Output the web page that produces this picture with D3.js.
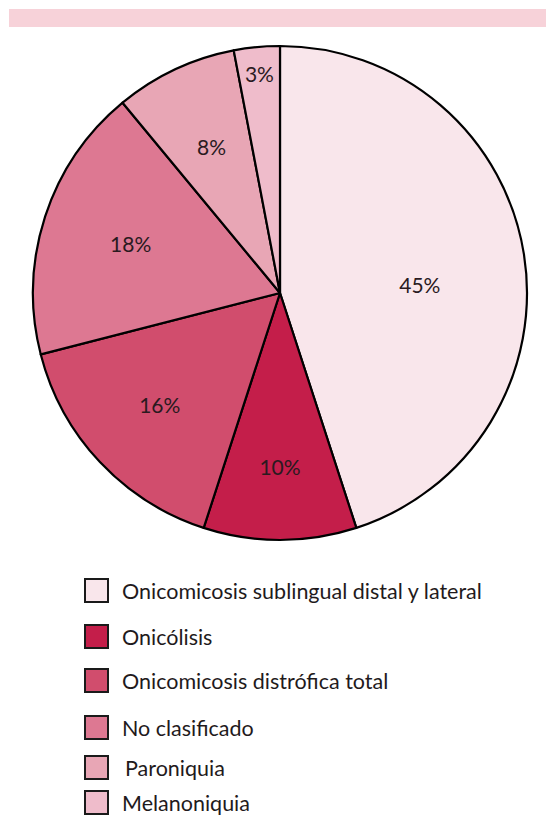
<!DOCTYPE html>
<html><head><meta charset="utf-8">
<script src="https://cdn.jsdelivr.net/npm/d3@7"></script>
<style>body{margin:0;background:#fff}svg{display:block}</style>
</head><body><svg id="c" width="546" height="815"></svg>
<script>
const categories = ["Onicomicosis sublingual distal y lateral","Onicólisis","Onicomicosis distrófica total","No clasificado","Paroniquia","Melanoniquia"];
const values = [45,10,16,18,8,3];
const labels = ["45%","10%","16%","18%","8%","3%"];
const colors = ["#f9e6eb","#c41e4a","#d14d6d","#dd7892","#e8a6b5","#efbccb"];

const svg = d3.select("#c");
const font = "Lato, 'Open Sans', sans-serif";
svg.append("rect").attr("x",9).attr("y",9).attr("width",537).attr("height",18).attr("fill","#f7d2d9");

const cx=280, cy=293, R=247;
const pie = d3.pie().sort(null).value(d=>d)(values);
const arc = d3.arc().innerRadius(0).outerRadius(R);
const g = svg.append("g").attr("transform",`translate(${cx},${cy})`);
g.selectAll("path").data(pie).join("path")
  .attr("d",arc).attr("fill",(d,i)=>colors[i])
  .attr("stroke","#000").attr("stroke-width",2.2).attr("stroke-linejoin","round");

const labelR = [140,175,165,157,161,219];
const labelShift = [6,0,0,0,0,0];
g.selectAll("text").data(pie).join("text")
  .attr("transform",(d,i)=>{
    const a=(d.startAngle+d.endAngle)/2 + labelShift[i]*Math.PI/180;
    return `translate(${Math.sin(a)*labelR[i]},${-Math.cos(a)*labelR[i]})`;})
  .attr("text-anchor","middle").attr("dy","0.35em")
  .attr("font-family",font).attr("font-size",21).attr("fill","#2a1a1f")
  .text((d,i)=>labels[i]);

const rowY=[591,637,681,728,768,803];
const lg = svg.append("g");
categories.forEach((c,i)=>{
  lg.append("rect").attr("x",85).attr("y",rowY[i]-12).attr("width",23).attr("height",23)
    .attr("fill",colors[i]).attr("stroke","#1a1a1a").attr("stroke-width",2);
  lg.append("text").attr("x",i===4?125:122).attr("y",rowY[i]).attr("dy","0.35em")
    .attr("font-family",font).attr("font-size",21.5).attr("fill","#1f1a1c").text(c);
});
</script></body></html>
